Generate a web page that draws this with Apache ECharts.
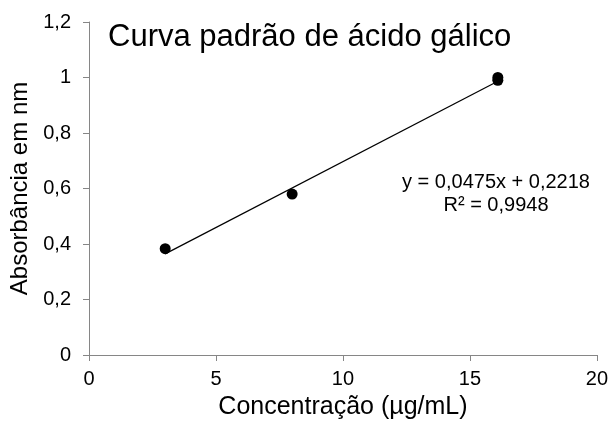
<!DOCTYPE html>
<html>
<head>
<meta charset="utf-8">
<script src="https://cdn.jsdelivr.net/npm/echarts@6/dist/echarts.min.js"></script>
<style>
  html, body { margin: 0; padding: 0; background: #fff; }
  #chart { width: 611px; height: 425px; }
</style>
</head>
<body>
<div id="chart"></div>
<script>
// Gallic acid standard curve: concentration (µg/mL) vs absorbance
const concentrations = [3, 8, 16.1, 16.1];
const absorbances = [0.383, 0.58, 1.0, 0.99];

// Linear fit reported on the chart
const slope = 0.0475;
const intercept = 0.2218;
const rSquared = 0.9948;

const xTicks = { min: 0, max: 20, step: 5 };
const yTicks = { min: 0, max: 1.2, step: 0.2 };

const fmt = (v, d) => v.toFixed(d).replace('.', ',');

const points = concentrations.map((c, i) => [c, absorbances[i]]);
const xFitStart = Math.min(...concentrations);
const xFitEnd = Math.max(...concentrations);
const fitLine = [
  [xFitStart, slope * xFitStart + intercept],
  [xFitEnd, slope * xFitEnd + intercept]
];

const font = 'Liberation Sans, Arial, sans-serif';
const chart = echarts.init(document.getElementById('chart'), null, { renderer: 'canvas' });

chart.setOption({
  animation: false,
  backgroundColor: '#ffffff',
  title: {
    text: 'Curva padrão de ácido gálico',
    left: 103,
    top: 17,
    textStyle: { fontFamily: font, fontSize: 31, fontWeight: 'normal', color: '#000' }
  },
  graphic: [{
    type: 'text',
    style: {
      text: 'y = ' + fmt(slope, 4) + 'x + ' + fmt(intercept, 4) + '\nR² = ' + fmt(rSquared, 4),
      x: 496, y: 171,
      align: 'center',
      fontFamily: font,
      fontSize: 20,
      lineHeight: 23,
      fill: '#000'
    }
  }],
  grid: { left: 89, right: 14, top: 22, bottom: 70 },
  xAxis: {
    type: 'value',
    min: xTicks.min, max: xTicks.max, interval: xTicks.step,
    name: 'Concentração (µg/mL)',
    nameLocation: 'middle',
    nameGap: 40,
    nameTextStyle: { fontFamily: font, fontSize: 25, color: '#000' },
    axisLine: { lineStyle: { color: '#868686', width: 1 } },
    axisTick: { show: true, length: 6, lineStyle: { color: '#868686' } },
    axisLabel: { fontFamily: font, fontSize: 20, color: '#000', margin: 14, formatter: v => fmt(v, 0) },
    splitLine: { show: false }
  },
  yAxis: {
    type: 'value',
    min: yTicks.min, max: yTicks.max, interval: yTicks.step,
    name: 'Absorbância em nm',
    nameLocation: 'middle',
    nameGap: 55,
    nameTextStyle: { fontFamily: font, fontSize: 24, color: '#000' },
    axisLine: { show: true, lineStyle: { color: '#868686', width: 1 } },
    axisTick: { show: true, length: 6, lineStyle: { color: '#868686' } },
    axisLabel: {
      fontFamily: font, fontSize: 20, color: '#000', margin: 18,
      formatter: v => {
        const r = Math.round(v * 10) / 10;
        return Number.isInteger(r) ? String(r) : fmt(r, 1);
      }
    },
    splitLine: { show: false }
  },
  series: [
    {
      type: 'line',
      data: fitLine,
      symbol: 'none',
      lineStyle: { color: '#000', width: 1.2 },
      z: 2
    },
    {
      type: 'scatter',
      data: points,
      symbol: 'circle',
      symbolSize: 11,
      itemStyle: { color: '#000', opacity: 1 },
      z: 3
    }
  ]
});
</script>
</body>
</html>
